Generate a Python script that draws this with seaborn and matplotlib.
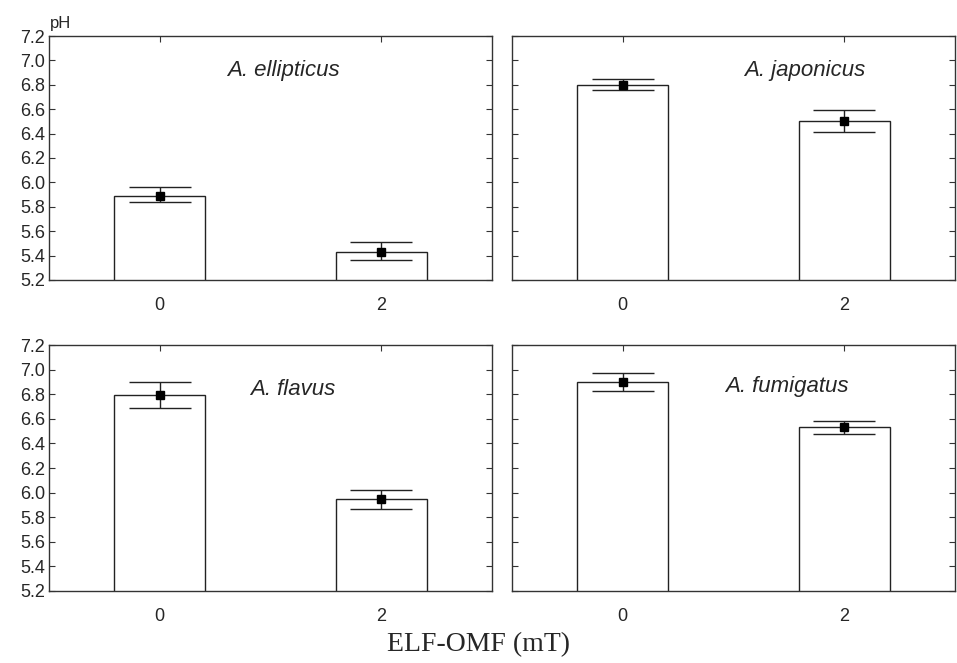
import numpy as np
import pandas as pd
import seaborn as sns
import matplotlib.pyplot as plt

# ---------------- data ----------------
species = ["A. ellipticus", "A. japonicus", "A. flavus", "A. fumigatus"]
field_levels = ["0", "2"]
ph_mean = {
    "A. ellipticus": [5.89, 5.43],
    "A. japonicus": [6.80, 6.50],
    "A. flavus": [6.79, 5.95],
    "A. fumigatus": [6.90, 6.53],
}
ph_err_low = {
    "A. ellipticus": [5.84, 5.36],
    "A. japonicus": [6.76, 6.41],
    "A. flavus": [6.69, 5.87],
    "A. fumigatus": [6.83, 6.48],
}
ph_err_high = {
    "A. ellipticus": [5.96, 5.51],
    "A. japonicus": [6.845, 6.59],
    "A. flavus": [6.90, 6.02],
    "A. fumigatus": [6.97, 6.58],
}
yticks = [5.2, 5.4, 5.6, 5.8, 6.0, 6.2, 6.4, 6.6, 6.8, 7.0, 7.2]

sns.set_style("white")
plt.rcParams['font.family'] = ['Liberation Sans', 'DejaVu Sans']

fig = plt.figure(figsize=(9.57, 6.63), dpi=100)

# axes boxes [left, bottom, width, height] in figure fraction
boxes = [
    [0.0512, 0.5777, 0.463, 0.368],
    [0.535, 0.5777, 0.463, 0.368],
    [0.0512, 0.1086, 0.463, 0.371],
    [0.535, 0.1086, 0.463, 0.371],
]
title_pos = [(0.53, 0.86), (0.66, 0.86), (0.55, 0.82), (0.62, 0.83)]

for i, sp in enumerate(species):
    ax = fig.add_axes(boxes[i])
    df = pd.DataFrame({"field": field_levels, "pH": ph_mean[sp]})
    sns.barplot(data=df, x="field", y="pH", color="white", edgecolor="#222222",
                linewidth=1.0, width=0.41, errorbar=None, ax=ax)
    xpos = np.arange(len(field_levels))
    mean = np.array(ph_mean[sp])
    lo = mean - np.array(ph_err_low[sp])
    hi = np.array(ph_err_high[sp]) - mean
    ax.errorbar(xpos, mean, yerr=[lo, hi], fmt="s", color="black", ms=5.5,
                ecolor="#222222", elinewidth=1.0, capsize=22, capthick=1.0, zorder=5)

    ax.set_ylim(5.2, 7.2)
    ax.set_xlim(-0.5, 1.5)
    ax.set_yticks(yticks)
    ax.set_xlabel("")
    ax.set_ylabel("")
    if i % 2 == 0:
        ax.set_yticklabels([f"{t:.1f}" for t in yticks], fontsize=13)
    else:
        ax.set_yticklabels([])
    ax.set_xticks(xpos)
    ax.set_xticklabels(field_levels, fontsize=13)
    ax.tick_params(direction="in", length=4, width=0.8, color="#333333",
                   top=True, right=True, left=True, bottom=True)
    ax.tick_params(axis="x", pad=12)
    ax.tick_params(axis="y", pad=3)
    for s in ax.spines.values():
        s.set_visible(True)
        s.set_color("#333333")
        s.set_linewidth(1.0)
    ax.text(title_pos[i][0], title_pos[i][1], sp, transform=ax.transAxes,
            ha="center", va="center", fontsize=16, style="italic")

fig.text(0.052, 0.965, "pH", fontsize=12, ha="left", va="center")
fig.text(0.5, 0.028, "ELF-OMF (mT)", fontsize=20, ha="center", va="center",
         family=["Liberation Serif", "DejaVu Serif"])

plt.savefig("out.png", dpi=100)
